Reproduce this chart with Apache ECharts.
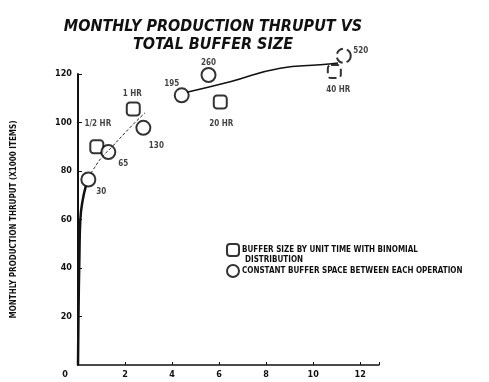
<!DOCTYPE html>
<html>
<head>
<meta charset="utf-8">
<script src="https://cdn.jsdelivr.net/npm/echarts@6/dist/echarts.min.js"></script>
<style>
  html, body { margin: 0; padding: 0; background: #fff; }
  #chart { width: 489px; height: 382px; }
</style>
</head>
<body>
<div id="chart"></div>
<script>
// Buffer size measured by unit time (binomial distribution): [buffer size, thruput, label]
const bufferByTime = [
  [0.8, 90, '1/2 HR'],
  [2.35, 105.6, '1 HR'],
  [6.05, 108.5, '20 HR'],
  [10.9, 121, '40 HR']
];
// Constant buffer space between each operation: [buffer size, thruput, label]
const constantSpace = [
  [0.44, 76.5, '30'],
  [1.29, 87.8, '65'],
  [2.78, 97.8, '130'],
  [4.41, 111.2, '195'],
  [5.55, 119.6, '260'],
  [11.3, 127.5, '520']
];
// Hand-faired trend curves
const trendSteep = [[0.0, 0], [0.02, 20], [0.06, 45], [0.1, 60], [0.2, 68], [0.34, 74]];
const trendLow = [[0.55, 79], [0.65, 80.6], [1.0, 85.5], [1.43, 89.8], [2.21, 97.9], [2.85, 104]];
const trendHigh = [[4.63, 112.5], [6.47, 116.8], [8.6, 122.4], [10.3, 123.8], [11.06, 124.5]];
// Axis ticks
const xTicks = [0, 2, 4, 6, 8, 10, 12];
const yTicks = [20, 40, 60, 80, 100, 120];

const labelOffsets = {
  '1/2 HR': [1, -23], '1 HR': [-1, -15], '20 HR': [1, 22], '40 HR': [4, 18],
  '30': [13, 12], '65': [15, 12], '130': [13, 18], '195': [-10, -11],
  '260': [0, -12], '520': [17, -5]
};
const faint = { '40 HR': true, '520': true };

const labelFont = {
  fontFamily: 'DejaVu Sans Condensed', fontWeight: 'bold', fontSize: 8, color: '#111'
};

function points(rows) {
  return rows.map(r => ({
    value: [r[0], r[1]],
    name: r[2],
    itemStyle: faint[r[2]] ? { borderType: 'dashed' } : undefined,
    label: {
      show: true, position: 'inside', formatter: r[2],
      offset: labelOffsets[r[2]], ...labelFont
    }
  }));
}

const chart = echarts.init(document.getElementById('chart'), null, { renderer: 'canvas' });
chart.setOption({
  backgroundColor: '#fff',
  animation: false,
  title: {
    text: 'MONTHLY PRODUCTION THRUPUT VS\nTOTAL BUFFER SIZE',
    left: 208, top: 13, textAlign: 'center',
    textStyle: {
      fontFamily: 'DejaVu Sans Condensed', fontWeight: 'bold', fontStyle: 'italic',
      fontSize: 16, lineHeight: 18, color: '#111'
    }
  },
  legend: {
    orient: 'vertical', left: 221, top: 238, itemGap: 7,
    itemWidth: 12, itemHeight: 12,
    textStyle: { ...labelFont, padding: [0, 0, 0, -2] },
    data: [
      { name: 'BUFFER SIZE BY UNIT TIME WITH BINOMIAL', icon: 'emptyRoundRect' },
      { name: 'CONSTANT BUFFER SPACE BETWEEN EACH OPERATION', icon: 'emptyCircle' }
    ]
  },
  graphic: [{
    type: 'text', left: 245, top: 256,
    style: { text: 'DISTRIBUTION', font: 'bold 8px "DejaVu Sans Condensed"', fill: '#111' }
  }],
  grid: { left: 78, right: 110, top: 74, bottom: 17, containLabel: false },
  xAxis: {
    type: 'value', min: 0, max: 12.8, interval: 2,
    axisLine: { lineStyle: { color: '#111', width: 1.5 } },
    axisTick: { inside: true, length: 3, lineStyle: { color: '#111' } },
    splitLine: { show: false },
    axisLabel: {
      margin: 5, ...labelFont, fontSize: 9,
      formatter: v => xTicks.includes(v) ? (v === 0 ? '{z|0}' : String(v)) : '',
      rich: { z: { ...labelFont, fontSize: 9, padding: [0, 26, 0, 0] } }
    }
  },
  yAxis: {
    type: 'value', min: 0, max: 120, interval: 20,
    name: 'MONTHLY PRODUCTION THRUPUT (X1000 ITEMS)',
    nameLocation: 'middle', nameRotate: 90, nameGap: 60,
    nameTextStyle: { ...labelFont, fontSize: 8 },
    axisLine: { lineStyle: { color: '#111', width: 2 } },
    axisTick: { inside: true, length: 4, lineStyle: { color: '#111' } },
    splitLine: { show: false },
    axisLabel: {
      margin: 6, ...labelFont, fontSize: 9, showMinLabel: false,
      formatter: v => yTicks.includes(v) ? String(v) : ''
    }
  },
  series: [
    {
      type: 'line', data: trendSteep, showSymbol: false, smooth: true, clip: false,
      lineStyle: { color: '#111', width: 2.5 }, silent: true
    },
    {
      type: 'line', data: trendLow, showSymbol: false, smooth: true, clip: false,
      lineStyle: { color: '#222', width: 1, type: [3, 2] }, silent: true
    },
    {
      type: 'line', data: trendHigh, showSymbol: false, smooth: true, clip: false,
      lineStyle: { color: '#111', width: 1.5 }, silent: true
    },
    {
      name: 'BUFFER SIZE BY UNIT TIME WITH BINOMIAL',
      type: 'scatter', symbol: 'emptyRoundRect', symbolSize: 13, clip: false,
      itemStyle: { color: '#000', borderWidth: 1.5 },
      data: points(bufferByTime)
    },
    {
      name: 'CONSTANT BUFFER SPACE BETWEEN EACH OPERATION',
      type: 'scatter', symbol: 'emptyCircle', symbolSize: 14, clip: false,
      itemStyle: { color: '#000', borderWidth: 1.5 },
      data: points(constantSpace)
    }
  ]
});
</script>
</body>
</html>
